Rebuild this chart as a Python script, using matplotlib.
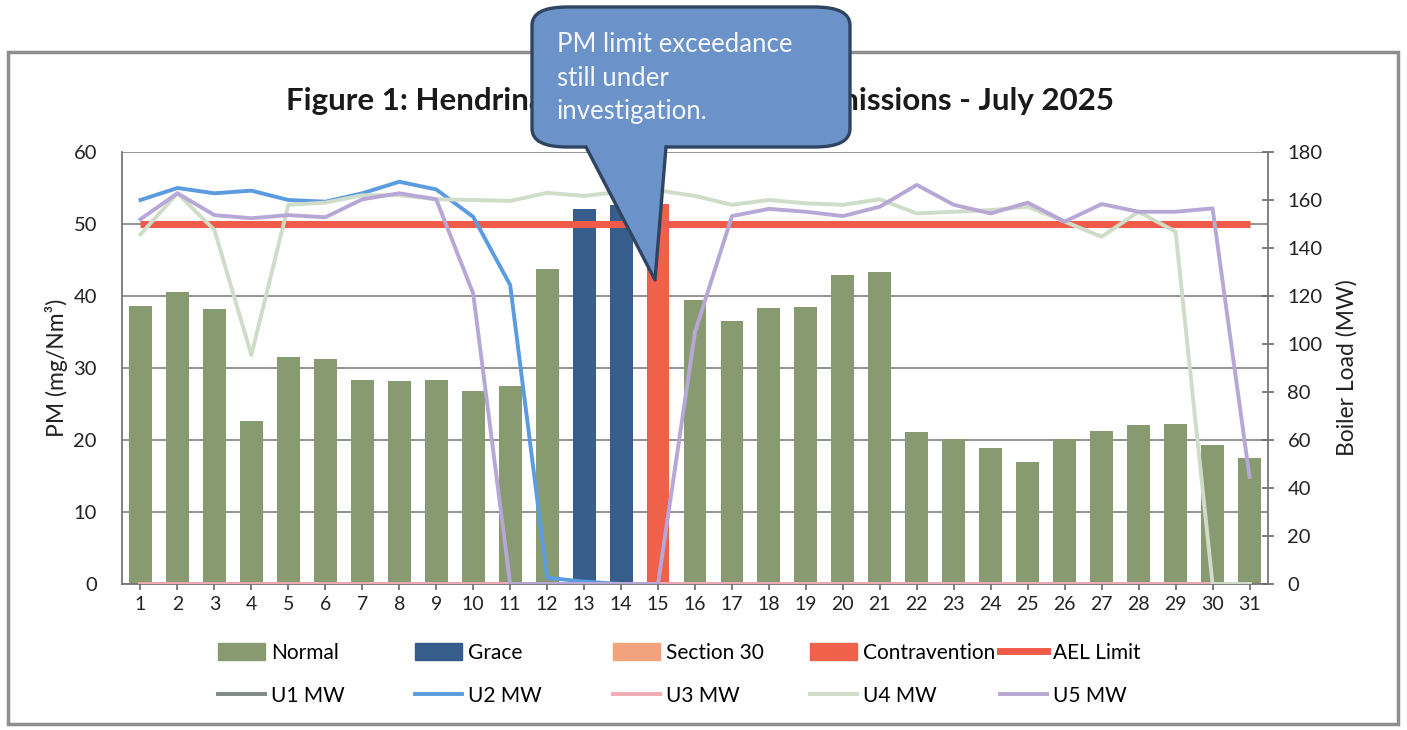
import matplotlib
matplotlib.use('Agg')
import matplotlib.pyplot as plt
from matplotlib.patches import Patch, Rectangle, FancyBboxPatch, Polygon
from matplotlib.lines import Line2D

plt.rcParams['font.family'] = ['Lato', 'DejaVu Sans']

days = list(range(1, 32))
pm = [38.6, 40.6, 38.2, 22.6, 31.5, 31.2, 28.3, 28.2, 28.3, 26.8, 27.5, 43.7,
      52.1, 52.6, 52.8, 39.5, 36.5, 38.3, 38.5, 42.9, 43.4, 21.1, 20.1, 18.9,
      16.9, 20.1, 21.2, 22.1, 22.2, 19.3, 17.5]
status = ['Normal'] * 12 + ['Grace', 'Grace', 'Contravention'] + ['Normal'] * 16
ael_limit = [50] * 31

u1_mw = [0] * 31
u2_mw = [160, 165, 162.8, 163.9, 160, 159.3, 162.8, 167.6, 164.4, 153, 124.6, 2.6,
         1, 0, 0, 0, 0, 0, 0, 0, 0, 0, 0, 0, 0, 0, 0, 0, 0, 0, 0]
u3_mw = [0] * 31
u4_mw = [145.7, 162.8, 147.5, 95.4, 158, 158.9, 162, 162, 160.3, 160, 159.6, 163,
         161.7, 163.5, 164, 161.7, 158, 160, 158.6, 158, 160.3, 154.4, 155.1, 155.8,
         157.2, 151, 144.7, 155.1, 146.8, 0, 0]
u5_mw = [152, 162.8, 153.7, 152.4, 153.7, 152.8, 160.3, 162.8, 160.3, 121, 0, 0,
         0, 0, 0, 105, 153.3, 156.3, 155.1, 153.3, 157.2, 166.3, 158, 154.4,
         158.9, 151, 158.3, 155.1, 155.1, 156.5, 44.6]

bar_colors = {'Normal': '#889a70', 'Grace': '#365d8b', 'Section 30': '#f2a27c',
              'Contravention': '#f0614c'}
unit_colors = ['#7f8a86', '#5b9be0', '#f2aab3', '#cfdcc8', '#b7a7d6']

W, H = 1407, 730
fig = plt.figure(figsize=(W / 100, H / 100), dpi=100)


def fx(px):
    return px / W


def fy(py):
    return 1 - py / H


# outer chart frame
fig.patches.append(Rectangle((fx(8), fy(724)), fx(1390), 672 / H, transform=fig.transFigure,
                             fill=False, edgecolor='#8e8e8e', lw=2.5, zorder=1))

ax = fig.add_axes([fx(122), fy(584), fx(1268) - fx(122), fy(152) - fy(584)])
ax2 = ax.twinx()

for st in ['Normal', 'Grace', 'Contravention']:
    vals = [v if s == st else 0 for v, s in zip(pm, status)]
    ax.bar(days, vals, width=0.62, color=bar_colors[st], zorder=2)
ax.plot(days, ael_limit, color='#f05a48', lw=5, solid_capstyle='butt', zorder=3)

ax.set_xlim(0.5, 31.5)
ax.set_ylim(0, 60)
ax.set_yticks(range(0, 61, 10))
ax.set_xticks(days)
ax.grid(axis='y', color='#8a8a8a', lw=1.3, zorder=0)
ax.set_axisbelow(True)
ax.tick_params(axis='y', length=0, pad=18, labelsize=14.5, colors='#222222')
ax.tick_params(axis='x', length=4, width=1.2, color='#666666', pad=5, labelsize=14,
               labelcolor='#222222')
ax.set_ylabel('PM (mg/Nm³)', fontsize=16.5, color='#222222', labelpad=4)
for side in ['top', 'right']:
    ax.spines[side].set_visible(False)
for side in ['left', 'bottom']:
    ax.spines[side].set_color('#777777')
    ax.spines[side].set_linewidth(1.3)

for vals, c in zip([u1_mw, u2_mw, u3_mw, u4_mw, u5_mw], unit_colors):
    ax2.plot(days, vals, color=c, lw=2.8, solid_joinstyle='round')
ax2.set_ylim(0, 180)
ax2.set_yticks(range(0, 181, 20))
ax2.tick_params(axis='y', direction='inout', length=8, width=1.2, color='#666666',
                pad=10, labelsize=14.5, labelcolor='#222222')
ax2.set_ylabel('Boiler Load (MW)', fontsize=16.5, color='#222222', labelpad=10)
for side in ['top', 'left', 'bottom']:
    ax2.spines[side].set_visible(False)
ax2.spines['right'].set_color('#777777')
ax2.spines['right'].set_linewidth(1.3)

fig.text(fx(700), fy(101), 'Figure 1: Hendrina Power Station PM Emissions - July 2025',
         ha='center', va='center', fontsize=22.5, fontweight='bold', color='#1a1a1a')

# legend, one column at a time
leg_cols = [
    ([Patch(color=bar_colors['Normal']), Line2D([], [], color=unit_colors[0], lw=2.8)],
     ['Normal', 'U1 MW'], 218),
    ([Patch(color=bar_colors['Grace']), Line2D([], [], color=unit_colors[1], lw=2.8)],
     ['Grace', 'U2 MW'], 415),
    ([Patch(color=bar_colors['Section 30']), Line2D([], [], color=unit_colors[2], lw=2.8)],
     ['Section 30', 'U3 MW'], 613),
    ([Patch(color=bar_colors['Contravention']), Line2D([], [], color=unit_colors[3], lw=2.8)],
     ['Contravention', 'U4 MW'], 810),
    ([Line2D([], [], color='#f05a48', lw=5), Line2D([], [], color=unit_colors[4], lw=2.8)],
     ['AEL Limit', 'U5 MW'], 1000),
]
for handles, labels, x0 in leg_cols:
    fig.legend(handles, labels, loc='upper left', bbox_to_anchor=(fx(x0), fy(643)),
               frameon=False, fontsize=15, handlelength=2.25, handleheight=0.85,
               handletextpad=0.3, labelspacing=1.1, borderpad=0, borderaxespad=0)

# callout bubble
box = FancyBboxPatch((fx(532), fy(147)), fx(850) - fx(532), fy(7) - fy(147),
                     boxstyle='round,pad=0,rounding_size=0.025', transform=fig.transFigure,
                     facecolor='#6b93c9', edgecolor='#2f4460', lw=2.4, zorder=20)
fig.patches.append(box)
ptr = [(fx(584), fy(144)), (fx(666), fy(144)), (fx(655), fy(280))]
fig.patches.append(Polygon(ptr, closed=True, transform=fig.transFigure,
                           facecolor='#6b93c9', edgecolor='none', zorder=21))
fig.lines.append(Line2D([fx(586), fx(655), fx(666)], [fy(147), fy(280), fy(147)],
                        transform=fig.transFigure, color='#2f4460', lw=2.4, zorder=22))
fig.text(fx(557), fy(78), 'PM limit exceedance\nstill under\ninvestigation.',
         ha='left', va='center', fontsize=18.5, color='#f4f7fb', linespacing=1.45,
         zorder=23)

fig.savefig('out.png', dpi=100)
